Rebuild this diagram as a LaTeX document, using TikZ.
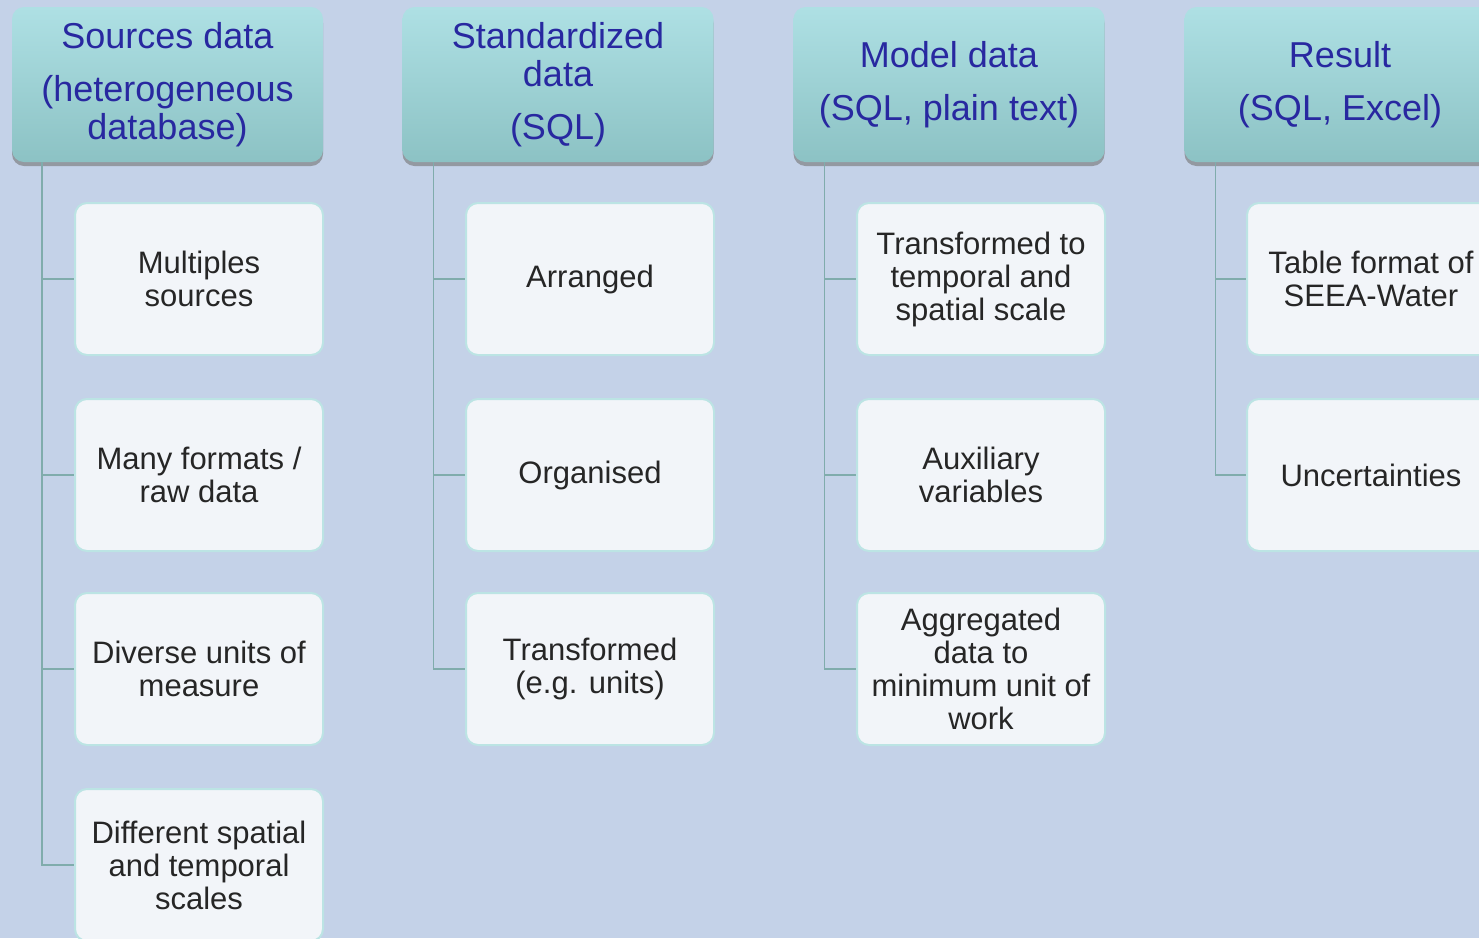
\documentclass[tikz,border=0pt]{standalone}
\usepackage{fontspec}
\setmainfont{Liberation Sans}
\usetikzlibrary{shadows}
\definecolor{bgc}{RGB}{196,210,232}
\definecolor{htop}{RGB}{174,224,228}
\definecolor{hbot}{RGB}{140,194,196}
\definecolor{htext}{RGB}{40,40,160}
\definecolor{cfill}{RGB}{242,245,249}
\definecolor{cborder}{RGB}{188,228,228}
\definecolor{conncol}{RGB}{128,172,172}
\tikzset{
  headbox/.style={rounded corners=12pt, top color=htop, bottom color=hbot, draw=none,
    minimum width=311pt, minimum height=155pt, inner sep=0pt, align=center,
    text=htext, font=\fontsize{36}{38}\selectfont,
    drop shadow={shadow xshift=0pt, shadow yshift=-4pt, fill=black!55, opacity=0.6}},
  childbox/.style={rounded corners=12pt, fill=cfill, draw=cborder, line width=2pt,
    minimum width=248pt, minimum height=152pt, inner sep=0pt, align=center,
    text=black!85, font=\fontsize{31}{33}\selectfont},
  conn/.style={draw=conncol, line width=1.5pt}
}
\begin{document}
\begin{tikzpicture}[x=1pt,y=-1pt]
\useasboundingbox (0,0) rectangle (1479,938);
\fill[bgc] (0,0) rectangle (1479,938);
\clip (0,0) rectangle (1479,938);
% headers
\node[headbox] (h1) at (167.5,84.5) {Sources data\\[15pt](heterogeneous\\database)};
\node[headbox] (h2) at (558,84.5) {Standardized\\data\\[15pt](SQL)};
\node[headbox] (h3) at (949,84.5) {Model data\\[15pt](SQL, plain text)};
\node[headbox] (h4) at (1340,84.5) {Result\\[15pt](SQL, Excel)};
% column 1
\node[childbox] (c11) at (199,279) {Multiples\\sources};
\node[childbox] (c12) at (199,475) {Many formats /\\raw data};
\node[childbox] (c13) at (199,669) {Diverse units of\\measure};
\node[childbox] (c14) at (199,865) {Different spatial\\and temporal\\scales};
% column 2
\node[childbox] (c21) at (590,279) {Arranged};
\node[childbox] (c22) at (590,475) {Organised};
\node[childbox] (c23) at (590,669) {Transformed\\(e.g. units)};
% column 3
\node[childbox] (c31) at (981,279) {Transformed to\\temporal and\\spatial scale};
\node[childbox] (c32) at (981,475) {Auxiliary\\variables};
\node[childbox] (c33) at (981,669) {Aggregated\\data to\\minimum unit of\\work};
% column 4
\node[childbox] (c41) at (1371,279) {Table format of\\SEEA-Water};
\node[childbox] (c42) at (1371,475) {Uncertainties};
% connectors
\foreach \c in {c11,c12,c13,c14} \draw[conn] ([xshift=30pt]h1.south west) |- (\c.west);
\foreach \c in {c21,c22,c23} \draw[conn] ([xshift=31pt]h2.south west) |- (\c.west);
\foreach \c in {c31,c32,c33} \draw[conn] ([xshift=31pt]h3.south west) |- (\c.west);
\foreach \c in {c41,c42} \draw[conn] ([xshift=31pt]h4.south west) |- (\c.west);
\end{tikzpicture}
\end{document}
